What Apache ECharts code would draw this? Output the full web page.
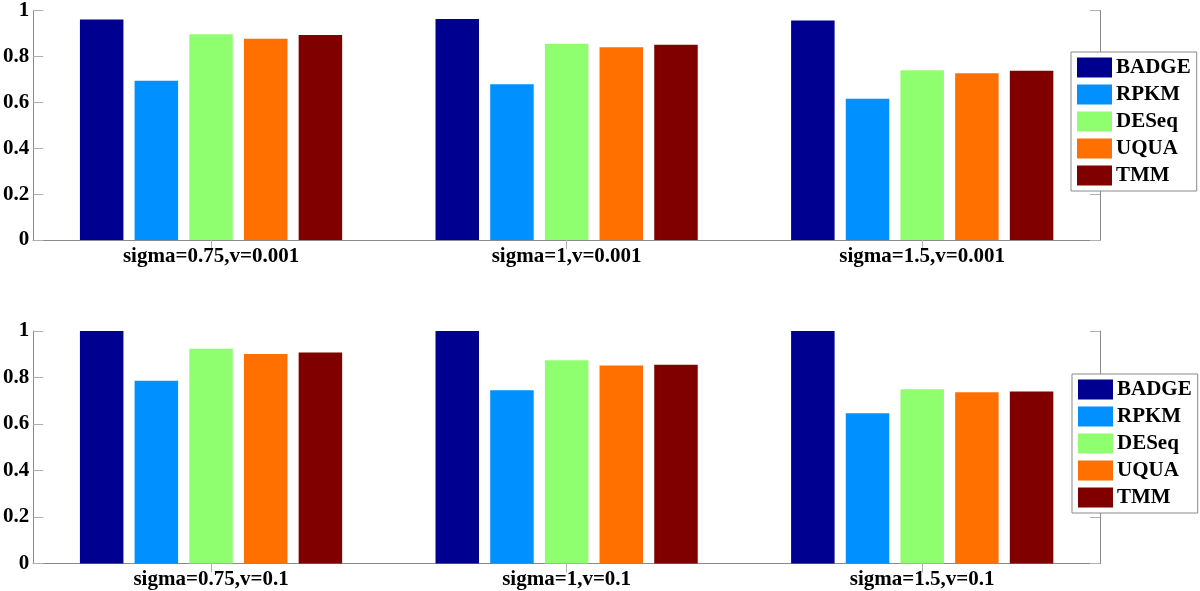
<!DOCTYPE html>
<html><head><meta charset="utf-8">
<script src="https://cdn.jsdelivr.net/npm/echarts@6/dist/echarts.min.js"></script>
<style>html,body{margin:0;padding:0;background:#fff}#c{width:1200px;height:591px}</style>
</head><body><div id="c"></div>
<script>
const methods = ['BADGE', 'RPKM', 'DESeq', 'UQUA', 'TMM'];
const colors = ['#000090', '#0090ff', '#8fff70', '#ff7000', '#800000'];
const catsTop = ['sigma=0.75,v=0.001', 'sigma=1,v=0.001', 'sigma=1.5,v=0.001'];
const catsBottom = ['sigma=0.75,v=0.1', 'sigma=1,v=0.1', 'sigma=1.5,v=0.1'];
const yTicks = [0, 0.2, 0.4, 0.6, 0.8, 1];
// top panel values per method
const badgeTop = [0.961, 0.963, 0.956];
const rpkmTop  = [0.694, 0.679, 0.615];
const deseqTop = [0.897, 0.855, 0.740];
const uquaTop  = [0.877, 0.840, 0.727];
const tmmTop   = [0.893, 0.851, 0.737];
// bottom panel values per method
const badgeBottom = [1.0, 1.0, 1.0];
const rpkmBottom  = [0.786, 0.745, 0.646];
const deseqBottom = [0.924, 0.874, 0.749];
const uquaBottom  = [0.901, 0.852, 0.737];
const tmmBottom   = [0.908, 0.855, 0.740];

const topVals = [badgeTop, rpkmTop, deseqTop, uquaTop, tmmTop];
const bottomVals = [badgeBottom, rpkmBottom, deseqBottom, uquaBottom, tmmBottom];

const font = 'Liberation Serif, Times New Roman, serif';
const axisGray = '#8a8a8a';
const tickGray = '#b0b0b0';

function xAxes(cats, gi) {
  return [
    { type: 'category', gridIndex: gi, data: cats, position: 'bottom',
      axisLine: { lineStyle: { color: axisGray, width: 1 } },
      axisTick: { show: true, inside: true, alignWithLabel: true, length: 9, lineStyle: { color: tickGray } },
      axisLabel: { fontFamily: font, fontWeight: 'bold', fontSize: 21, color: '#000', margin: 6 } },
    { type: 'category', gridIndex: gi, data: cats, position: 'top',
      axisLine: { show: true, lineStyle: { color: axisGray, width: 1 } },
      axisTick: { show: true, inside: true, alignWithLabel: true, length: 9, lineStyle: { color: tickGray } },
      axisLabel: { show: false } }
  ];
}
function yAxes(gi) {
  return [
    { type: 'value', gridIndex: gi, min: 0, max: 1, interval: 0.2, position: 'left',
      splitLine: { show: false },
      axisLine: { show: true, lineStyle: { color: axisGray } },
      axisTick: { show: true, inside: true, length: 10, lineStyle: { color: tickGray } },
      axisLabel: { fontFamily: font, fontWeight: 'bold', fontSize: 21, color: '#000', margin: 4,
        formatter: v => String(yTicks.find(t => Math.abs(t - v) < 1e-9) ?? v) } },
    { type: 'value', gridIndex: gi, min: 0, max: 1, interval: 0.2, position: 'right',
      splitLine: { show: false },
      axisLine: { show: true, lineStyle: { color: axisGray } },
      axisTick: { show: true, inside: true, length: 10, lineStyle: { color: tickGray } },
      axisLabel: { show: false } }
  ];
}

const series = [];
[topVals, bottomVals].forEach((vals, gi) => {
  methods.forEach((m, i) => {
    series.push({
      name: m, type: 'bar', xAxisIndex: gi * 2, yAxisIndex: gi * 2,
      data: vals[i], barWidth: 43.5, barGap: '25.7%',
      itemStyle: { color: colors[i] }
    });
  });
});

function legend(top, left) {
  return {
    data: methods, orient: 'vertical', left: left, top: top,
    itemWidth: 35, itemHeight: 20, itemGap: 6,
    padding: [5, 6, 5, 6],
    backgroundColor: '#fff', borderColor: axisGray, borderWidth: 1, borderRadius: 0,
    icon: 'rect',
    textStyle: { fontFamily: font, fontWeight: 'bold', fontSize: 21, color: '#000', padding: [0, 0, 0, -1] }
  };
}

const chart = echarts.init(document.getElementById('c'));
chart.setOption({
  animation: false,
  color: colors,
  grid: [
    { left: 31, right: 100, top: 7, height: 233 },
    { left: 31, right: 100, top: 331, height: 232.5 }
  ],
  xAxis: [...xAxes(catsTop, 0), ...xAxes(catsBottom, 1)],
  yAxis: [...yAxes(0), ...yAxes(1)],
  legend: [legend(52, 1071), legend(374, 1072)],
  series: series
});
</script>
</body></html>
